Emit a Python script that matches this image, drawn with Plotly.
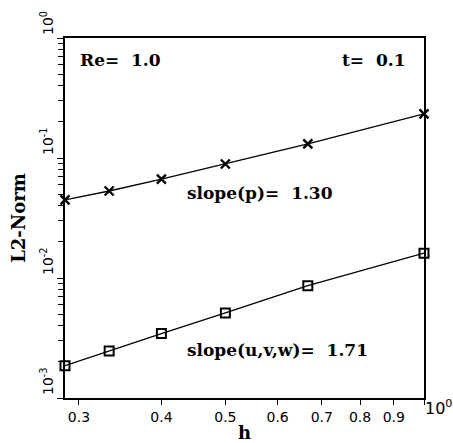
import math
import plotly.graph_objects as go

# data
h = [2/7, 1/3, 0.4, 0.5, 2/3, 1.0]
norm_p = [0.0447, 0.0531, 0.0668, 0.0891, 0.131, 0.233]
norm_uvw = [0.00186, 0.00247, 0.00344, 0.00511, 0.00863, 0.0161]

x_tick_vals = [0.3, 0.4, 0.5, 0.6, 0.7, 0.8, 0.9, 1.0]
x_tick_text = ["0.3", "0.4", "0.5", "0.6", "0.7", "0.8", "0.9", " "]
x_end_label = "10<sup>0</sup>"
y_tick_vals = [1e-3, 1e-2, 1e-1, 1e0]
y_tick_text = ["10<sup>-3</sup>", "10<sup>-2</sup>", "10<sup>-1</sup>", "10<sup>0</sup>"]

serif = dict(family="DejaVu Serif", size=17, color="black", weight="bold")
sans = dict(family="DejaVu Sans", size=14, color="black")

fig = go.Figure()
fig.add_trace(go.Scatter(
    x=h, y=norm_p, mode="lines+markers",
    line=dict(color="black", width=1.3),
    marker=dict(symbol="x-thin-open", size=9, color="black",
                line=dict(color="black", width=2.4)),
    showlegend=False, cliponaxis=False))
fig.add_trace(go.Scatter(
    x=h, y=norm_uvw, mode="lines+markers",
    line=dict(color="black", width=1.3),
    marker=dict(symbol="square-open", size=9, color="black",
                line=dict(color="black", width=2)),
    showlegend=False, cliponaxis=False))

annotations = []
for v, t in zip(y_tick_vals, y_tick_text):
    annotations.append(dict(
        x=0, xref="paper", y=math.log10(v), yref="y",
        text=t, textangle=-90, showarrow=False,
        xanchor="center", yanchor="bottom", xshift=-18, yshift=1,
        font=sans))
annotations.append(dict(
    x=1, xref="paper", y=0, yref="paper", text=x_end_label,
    showarrow=False, xanchor="left", yanchor="top", xshift=-1, yshift=3,
    font=dict(family="DejaVu Sans", size=16, color="black")))
annotations += [
    dict(x=0.036, y=0.939, xref="paper", yref="paper", text="Re=  1.0",
         showarrow=False, xanchor="left", yanchor="middle", font=serif),
    dict(x=0.955, y=0.939, xref="paper", yref="paper", text="t=  0.1",
         showarrow=False, xanchor="right", yanchor="middle", font=serif),
    dict(x=0.334, y=0.569, xref="paper", yref="paper", text="slope(p)=  1.30",
         showarrow=False, xanchor="left", yanchor="middle", font=serif),
    dict(x=0.334, y=0.133, xref="paper", yref="paper", text="slope(u,v,w)=  1.71",
         showarrow=False, xanchor="left", yanchor="middle", font=serif),
]

fig.update_layout(
    width=453, height=443,
    margin=dict(l=65, r=29, t=38, b=45, autoexpand=False),
    paper_bgcolor="white", plot_bgcolor="white",
    annotations=annotations,
    xaxis=dict(
        type="log", range=[math.log10(2/7), 0], automargin=False,
        showline=True, linecolor="black", linewidth=1.5, mirror=True,
        showgrid=False, zeroline=False,
        ticks="outside", ticklen=5, tickwidth=1.2, tickcolor="black",
        tickvals=x_tick_vals, ticktext=x_tick_text, tickfont=sans,
        title=dict(text="h", font=dict(family="DejaVu Serif", size=18, color="black", weight="bold"), standoff=12),
    ),
    yaxis=dict(
        type="log", range=[-3, 0], automargin=False,
        showline=True, linecolor="black", linewidth=1.5, mirror=True,
        showgrid=False, zeroline=False,
        ticks="outside", ticklen=6, tickwidth=1.2, tickcolor="black",
        tickvals=y_tick_vals, showticklabels=False,
        minor=dict(ticks="outside", ticklen=5, tickwidth=1, tickcolor="black", dtick="D1", showgrid=False),
        title=dict(text="L2-Norm", font=dict(family="DejaVu Serif", size=18, color="black", weight="bold"), standoff=27),
    ),
)
fig.write_html(
    "out.html",
    config={"displayModeBar": False},
    post_script="document.body.style.margin='0';document.body.style.overflow='hidden';",
)
